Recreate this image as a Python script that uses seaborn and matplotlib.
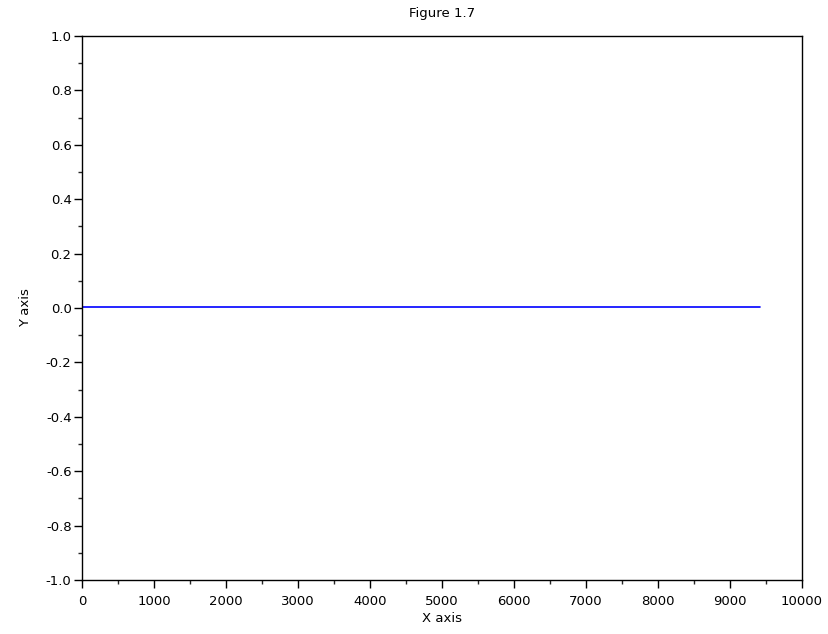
import numpy as np
import pandas as pd
import seaborn as sns
import matplotlib.pyplot as plt
from matplotlib.ticker import MultipleLocator

x_vals = [0, 9420]
y_vals = [0.005, 0.005]

df = pd.DataFrame({'x': x_vals, 'y': y_vals})

sns.set_style('ticks')
plt.rcParams['font.family'] = ['DejaVu Sans']
plt.rcParams['text.color'] = 'black'
plt.rcParams['axes.labelcolor'] = 'black'

fig = plt.figure(figsize=(8.29, 6.34), dpi=100)
ax = fig.add_axes([82 / 829, 1 - 580 / 634, 720 / 829, 544 / 634])

sns.lineplot(data=df, x='x', y='y', ax=ax, color='#0000ff', linewidth=1.2)

ax.set_xlim(0, 10000)
ax.set_ylim(-1.0, 1.0)
ax.xaxis.set_major_locator(MultipleLocator(1000))
ax.xaxis.set_minor_locator(MultipleLocator(500))
ax.yaxis.set_major_locator(MultipleLocator(0.2))
ax.yaxis.set_minor_locator(MultipleLocator(0.1))
ax.yaxis.set_major_formatter(plt.FuncFormatter(lambda v, p: f'{v:.1f}'.replace('-0.0', '0.0')))

ax.tick_params(which='major', direction='out', length=5.5, width=1, labelsize=9.5,
               colors='black', pad=2)
ax.tick_params(axis='x', which='major', pad=5)
ax.tick_params(which='minor', direction='out', length=3, width=1)
for s in ax.spines.values():
    s.set_visible(True)
    s.set_color('black')
    s.set_linewidth(1)

ax.set_xlabel('X axis', fontsize=9.5, labelpad=3)
ax.set_ylabel('Y axis', fontsize=9.5, labelpad=10)
ax.set_title('Figure 1.7', fontsize=9.5, pad=14)

fig.savefig('out.png', dpi=100)
